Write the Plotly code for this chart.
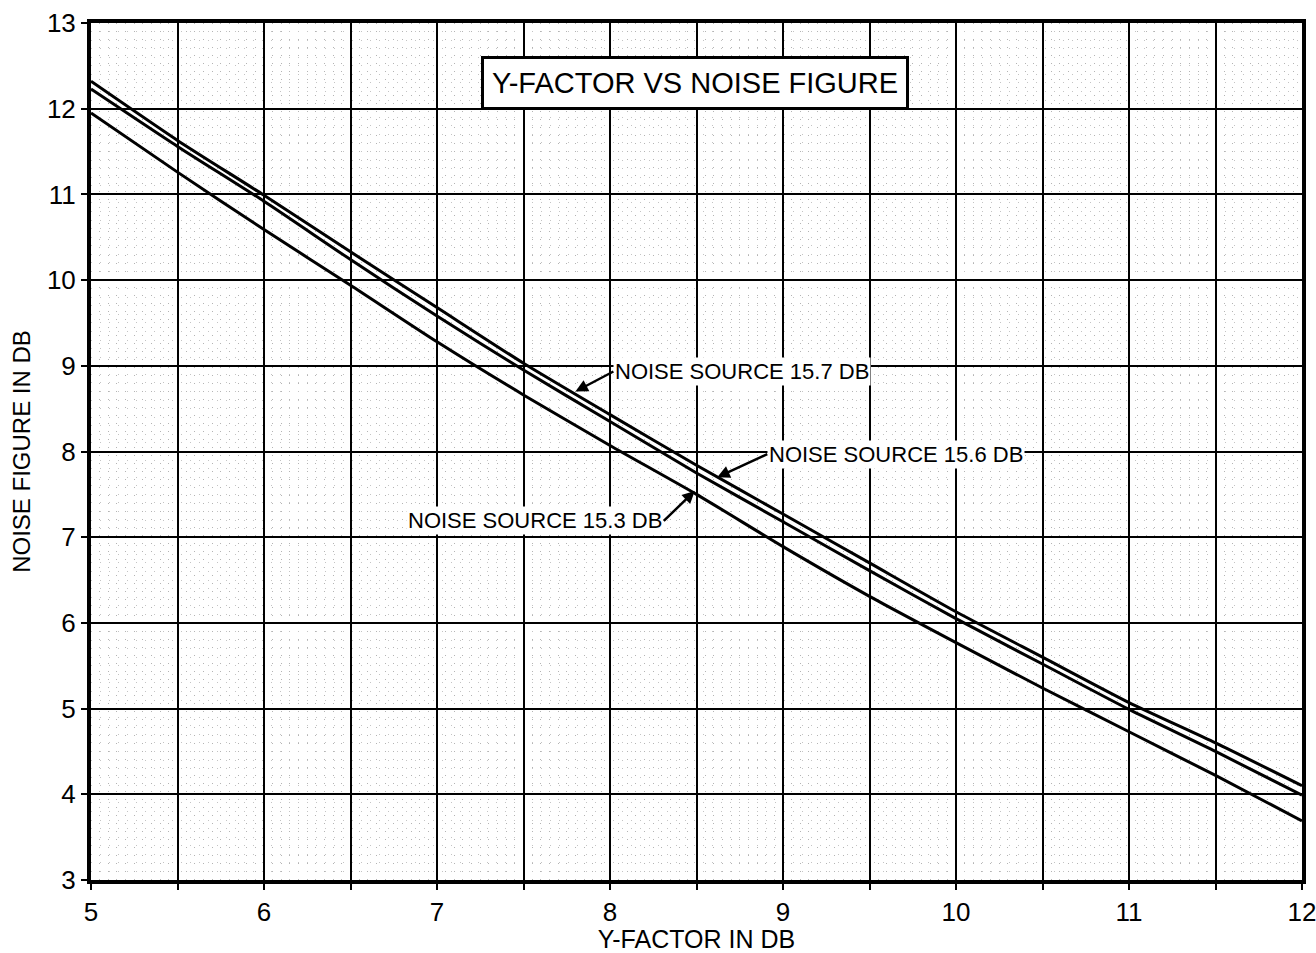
import plotly.graph_objects as go

y_factor_db = [5, 5.5, 6, 6.5, 7, 7.5, 8, 8.5, 9, 9.5, 10, 10.5, 11, 11.5, 12]
nf_source_157 = [12.32, 11.63, 10.99, 10.33, 9.68, 9.03, 8.43, 7.84, 7.27, 6.70, 6.13, 5.60, 5.07, 4.60, 4.10]
nf_source_156 = [12.23, 11.56, 10.92, 10.24, 9.58, 8.95, 8.35, 7.75, 7.18, 6.61, 6.05, 5.52, 4.99, 4.50, 3.99]
nf_source_153 = [11.95, 11.26, 10.59, 9.94, 9.28, 8.66, 8.07, 7.50, 6.89, 6.31, 5.77, 5.24, 4.73, 4.22, 3.69]

x_tick_vals = [5, 5.5, 6, 6.5, 7, 7.5, 8, 8.5, 9, 9.5, 10, 10.5, 11, 11.5, 12]
x_tick_text = ["5", "", "6", "", "7", "", "8", "", "9", "", "10", "", "11", "", "12"]
y_tick_vals = [3, 4, 5, 6, 7, 8, 9, 10, 11, 12, 13]

FONT = "Liberation Sans"

fig = go.Figure()
for name, ys in [("NOISE SOURCE 15.7 DB", nf_source_157),
                 ("NOISE SOURCE 15.6 DB", nf_source_156),
                 ("NOISE SOURCE 15.3 DB", nf_source_153)]:
    fig.add_trace(go.Scatter(x=y_factor_db, y=ys, mode="lines", name=name,
                             line=dict(color="black", width=3, shape="spline", smoothing=0.6),
                             showlegend=False))

fig.update_layout(
    width=1316, height=953,
    margin=dict(l=91, r=14, t=23, b=73),
    paper_bgcolor="white", plot_bgcolor="white",
    font=dict(family=FONT, color="black"),
    xaxis=dict(
        range=[5, 12], tickmode="array", tickvals=x_tick_vals, ticktext=x_tick_text,
        showgrid=True, gridcolor="black", gridwidth=1.5,
        showline=True, linecolor="black", linewidth=4, mirror=True,
        ticks="outside", ticklen=6, tickcolor="black", tickwidth=2,
        tickfont=dict(size=26, family=FONT), ticklabeloverflow="allow",
        title=dict(text="Y-FACTOR IN DB", font=dict(size=25, family=FONT), standoff=6),
        automargin=False,
        zeroline=False,
        minor=dict(dtick=0.05, showgrid=True, gridcolor="#b4b4b4", gridwidth=1, griddash="1px,7px"),
    ),
    yaxis=dict(
        range=[3, 13], tickmode="array", tickvals=y_tick_vals,
        showgrid=True, gridcolor="black", gridwidth=1.5,
        showline=True, linecolor="black", linewidth=4, mirror=True,
        ticks="outside", ticklen=6, tickcolor="black", tickwidth=2,
        tickfont=dict(size=26, family=FONT), ticklabeloverflow="allow",
        title=dict(text="NOISE FIGURE IN DB", font=dict(size=24, family=FONT), standoff=10),
        automargin=False,
        zeroline=False,
        minor=dict(dtick=0.1, showgrid=True, gridcolor="#c4c4c4", gridwidth=1, griddash="1px,8px"),
    ),
    annotations=[
        dict(x=8.49, y=12.30, xref="x", yref="y", text="Y-FACTOR VS NOISE FIGURE",
             showarrow=False, font=dict(size=29, family=FONT), bgcolor="white",
             bordercolor="black", borderwidth=3, borderpad=8),
        dict(x=7.80, y=8.70, xref="x", yref="y", text="NOISE SOURCE 15.7 DB",
             showarrow=True, ax=38, ay=-20, xanchor="left", yanchor="middle",
             arrowhead=2, arrowsize=1, arrowwidth=2.5, arrowcolor="black",
             font=dict(size=22, family=FONT), bgcolor="white"),
        dict(x=8.62, y=7.70, xref="x", yref="y", text="NOISE SOURCE 15.6 DB",
             showarrow=True, ax=50, ay=-23, xanchor="left", yanchor="middle",
             arrowhead=2, arrowsize=1, arrowwidth=2.5, arrowcolor="black",
             font=dict(size=22, family=FONT), bgcolor="white"),
        dict(x=8.49, y=7.54, xref="x", yref="y", text="NOISE SOURCE 15.3 DB",
             showarrow=True, ax=-31, ay=30, xanchor="right", yanchor="middle",
             arrowhead=2, arrowsize=1, arrowwidth=2.5, arrowcolor="black",
             font=dict(size=22, family=FONT), bgcolor="white"),
    ],
)

fig.write_html("out.html", config={"displayModeBar": False},
               post_script="document.body.style.margin='0';document.body.style.overflow='hidden';")
